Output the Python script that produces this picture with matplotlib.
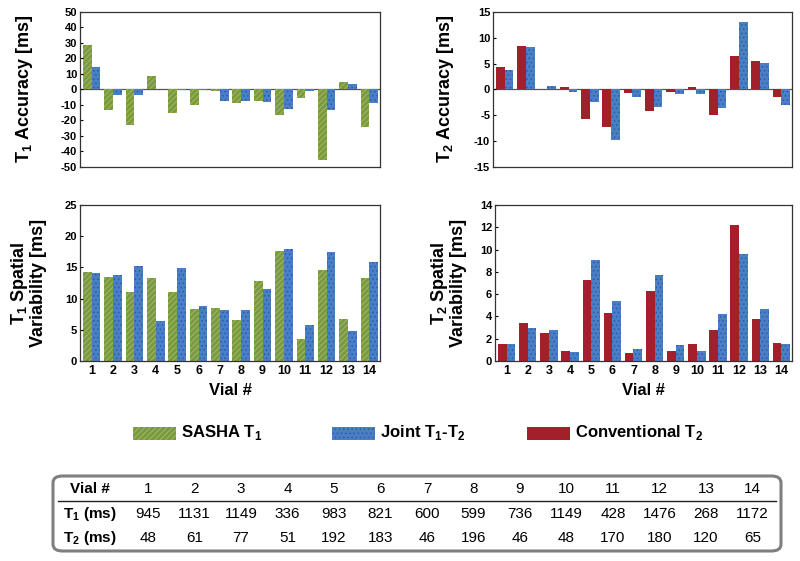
import matplotlib
matplotlib.use("Agg")
import matplotlib.pyplot as plt
from matplotlib.patches import Rectangle, FancyBboxPatch
from matplotlib.lines import Line2D
import numpy as np

plt.rcParams['font.family'] = ['Liberation Sans', 'DejaVu Sans']
plt.rcParams['mathtext.fontset'] = 'custom'
plt.rcParams['mathtext.rm'] = 'Liberation Sans'
plt.rcParams['mathtext.bf'] = 'Liberation Sans:bold'
plt.rcParams['hatch.linewidth'] = 0.6
plt.rcParams['axes.unicode_minus'] = False

# データ
vials = np.arange(1, 15)
t1_acc_sasha = [28.6, -13.3, -22.6, 8.6, -15.0, -9.7, -0.8, -8.6, -7.5, -16.6, -5.4, -45.8, 4.7, -24.0]
t1_acc_joint = [14.2, -3.8, -3.4, 0.6, -0.4, -0.5, -7.1, -7.1, -8.2, -12.9, -1.1, -13.3, 3.4, -9.0]
t2_acc_conv = [4.4, 8.5, 0.1, 0.45, -5.8, -7.3, -0.7, -4.2, -0.5, 0.5, -4.9, 6.5, 5.6, -1.4]
t2_acc_joint = [3.7, 8.2, 0.6, -0.4, -2.4, -9.8, -1.5, -3.3, -0.9, -0.9, -3.5, 13.1, 5.1, -3.0]
t1_var_sasha = [14.2, 13.4, 11.0, 13.3, 11.1, 8.4, 8.5, 6.6, 12.9, 17.7, 3.6, 14.6, 6.8, 13.3]
t1_var_joint = [14.1, 13.8, 15.3, 6.4, 14.9, 8.8, 8.1, 8.1, 11.5, 17.9, 5.8, 17.5, 4.8, 15.8]
t2_var_conv = [1.5, 3.4, 2.5, 0.9, 7.3, 4.3, 0.7, 6.3, 0.9, 1.5, 2.8, 12.2, 3.8, 1.6]
t2_var_joint = [1.5, 3.0, 2.8, 0.8, 9.1, 5.4, 1.1, 7.7, 1.4, 0.9, 4.2, 9.6, 4.7, 1.5]
table_t1 = [945, 1131, 1149, 336, 983, 821, 600, 599, 736, 1149, 428, 1476, 268, 1172]
table_t2 = [48, 61, 77, 51, 192, 183, 46, 196, 46, 48, 170, 180, 120, 65]

# 色と模様
green = dict(facecolor="#7b9a3d", edgecolor="#a3bf66", hatch="//////", linewidth=0)
blue = dict(facecolor="#4a7fc6", edgecolor="#2c5c9e", hatch="....", linewidth=0)
red = dict(facecolor="#a2202a", edgecolor="#a2202a", linewidth=0)

W = 800; H = 561
fig = plt.figure(figsize=(8, 5.61), dpi=100)

def px(x0, y0, x1, y1):
    return [x0 / W, 1 - y1 / H, (x1 - x0) / W, (y1 - y0) / H]

ax1 = fig.add_axes(px(80, 12, 380, 167))
ax2 = fig.add_axes(px(493, 12, 792, 167))
ax3 = fig.add_axes(px(80, 205, 380, 361))
ax4 = fig.add_axes(px(495, 205, 792, 361))

bw = 0.41
def draw(ax, a, b, sa, sb, ylim, yticks, xlab):
    ax.bar(vials - bw / 2, a, bw, **sa)
    ax.bar(vials + bw / 2, b, bw, **sb)
    ax.set_xlim(0.45, 14.5)
    ax.set_ylim(*ylim)
    ax.set_yticks(yticks)
    ax.tick_params(axis='y', direction='in', length=2, labelsize=8, pad=2)
    for t in ax.get_yticklabels():
        t.set_fontweight('bold')
    for s in ax.spines.values():
        s.set_color('#333333')
        s.set_linewidth(0.9)
    if xlab:
        ax.set_xticks(vials)
        ax.tick_params(axis='x', length=0, labelsize=9, pad=3)
        for t in ax.get_xticklabels():
            t.set_fontweight('bold')
        ax.set_xlabel("Vial #", fontsize=12, fontweight='bold', labelpad=4)
    else:
        ax.set_xticks([])
        ax.axhline(0, color='#555555', lw=0.9, zorder=0)

draw(ax1, t1_acc_sasha, t1_acc_joint, green, blue, (-50, 50), range(-50, 51, 10), False)
draw(ax2, t2_acc_conv, t2_acc_joint, red, blue, (-15, 15), range(-15, 16, 5), False)
draw(ax3, t1_var_sasha, t1_var_joint, green, blue, (0, 25), range(0, 26, 5), True)
draw(ax4, t2_var_conv, t2_var_joint, red, blue, (0, 14), range(0, 15, 2), True)

# 軸ラベル
lab = dict(rotation=90, ha='center', va='center', fontsize=13, fontweight='bold')
fig.text(25 / W, 1 - 89 / H, r"T$_\mathbf{1}$ Accuracy [ms]", **lab)
fig.text(445 / W, 1 - 89 / H, r"T$_\mathbf{2}$ Accuracy [ms]", **lab)
fig.text(28 / W, 1 - 283 / H, "T$_\\mathbf{1}$ Spatial\nVariability [ms]", linespacing=0.95, **lab)
fig.text(448 / W, 1 - 283 / H, "T$_\\mathbf{2}$ Spatial\nVariability [ms]", linespacing=0.95, **lab)

# 凡例
leg = [(133, green, r"SASHA T$_\mathbf{1}$"),
       (332, blue, r"Joint T$_\mathbf{1}$-T$_\mathbf{2}$"),
       (527, red, r"Conventional T$_\mathbf{2}$")]
for x0, st, txt in leg:
    fig.add_artist(Rectangle((x0 / W, 1 - 440 / H), 43 / W, 13 / H, transform=fig.transFigure, **st))
    fig.text((x0 + 48) / W, 1 - 433 / H, txt, ha='left', va='center', fontsize=12, fontweight='bold')

# 表
fig.add_artist(FancyBboxPatch((53 / W, 1 - 551 / H), 728 / W, 75 / H, boxstyle="round,pad=0,rounding_size=0.012",
                              transform=fig.transFigure, facecolor='none', edgecolor='#7f7f7f', linewidth=2.2))
fig.add_artist(Line2D([58 / W, 776 / W], [1 - 501 / H, 1 - 501 / H], transform=fig.transFigure, color='#222222', lw=1))
rows = [(489, "Vial #", list(vials)), (514, r"T$_\mathbf{1}$ (ms)", table_t1), (538, r"T$_\mathbf{2}$ (ms)", table_t2)]
for y, name, vals in rows:
    fig.text(90 / W, 1 - y / H, name, ha='center', va='center', fontsize=11, fontweight='bold')
    for i, v in enumerate(vals):
        fig.text((148 + i * 46.5) / W, 1 - y / H, str(v), ha='center', va='center', fontsize=11)

plt.savefig("out.png", dpi=100)
